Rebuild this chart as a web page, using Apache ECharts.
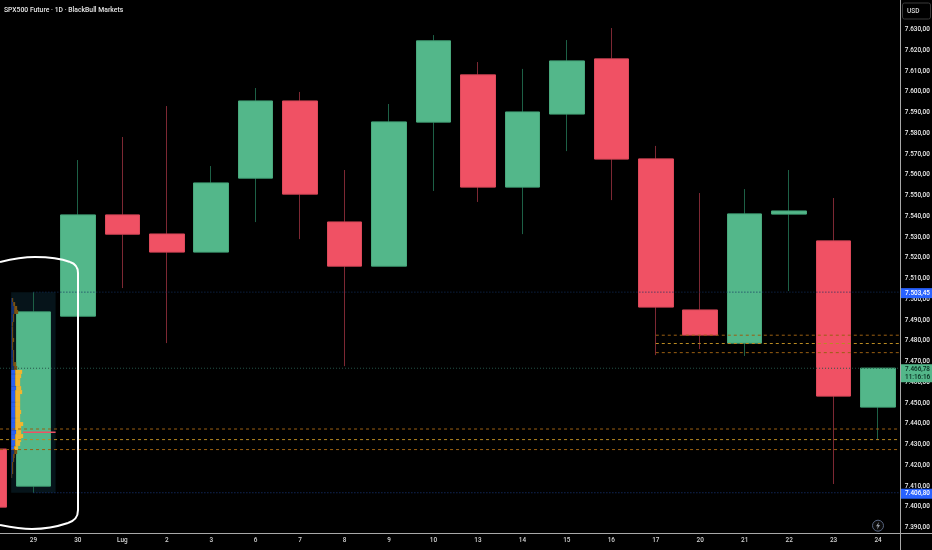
<!DOCTYPE html>
<html><head><meta charset="utf-8">
<style>html,body{margin:0;padding:0;background:#000}#c{width:932px;height:550px}</style>
<script src="https://cdn.jsdelivr.net/npm/echarts@6/dist/echarts.min.js"></script>
</head><body><div id="c"></div>
<script>
const categories=['26','29','30','Lug','2','3','6','7','8','9','10','13','14','15','16','17','20','21','22','23','24'];
const opens =[7427.8,7410,7491.9,7540.6,7531.4,7522.8,7558.4,7595.5,7537.2,7516,7585.4,7608.1,7554.1,7589.3,7615.8,7567.6,7494.8,7478.9,7541.1,7528.1,7448.1];
const closes=[7399.9,7493.9,7540.6,7531.4,7522.8,7556,7595.5,7550.7,7516,7585.4,7624.5,7554.1,7590.2,7614.8,7567.6,7496.3,7482.8,7541.1,7542.5,7453.4,7466.78];
const lows  =[7395,7406.8,7491.9,7505.4,7478.9,7522.8,7537.2,7529,7467.8,7516,7552.2,7546.9,7531.4,7571.4,7547.8,7473.1,7476,7472.7,7504,7411,7432.7];
const highs =[7432,7503.45,7567.1,7578.2,7593.1,7564.2,7601.8,7599.9,7562.3,7594.1,7627.3,7614.3,7611,7624.9,7630.7,7573.9,7551.2,7553.1,7562.3,7548.8,7466.78];
const yTicks=[7390,7400,7410,7420,7430,7440,7450,7460,7470,7480,7490,7500,7510,7520,7530,7540,7550,7560,7570,7580,7590,7600,7610,7620,7630];
const profilePrices=[7499.6,7497.7,7495.8,7493.9,7491.9,7490,7488.1,7486.1,7484.2,7482.3,7480.4,7478.4,7476.5,7474.6,7472.7,7470.7,7468.8,7466.9,7465,7463,7461.1,7459.2,7457.2,7455.3,7453.4,7451.5,7449.5,7447.6,7445.7,7443.8,7441.8,7439.9,7438,7436,7434.1,7432.2,7430.3,7428.3,7426.4,7424.5,7422.6,7420.6,7418.7,7416.8,7414.9];
const profileBuy=[1,2,3,3,2,2,1,1,1,1,1,1,1,2,2,2,2,3,4,4,4,4,5,4,4,4,4,4,4,4,4,4,4,5,4,4,4,3,3,2,2,1,1,1,0.5];
const profileSell=[1,2,3,4,1,1,1,1,1,1,2,1,1,1,1,1,3,3,7,6,5,5,5,7,5,5,5,5,6,5,5,8,6,5,8,6,5,4,3,1.5,1,1,1,1,0.5];
const sessionHigh=7503.45, sessionLow=7406.8, lastPrice=7466.78, pocPrice=7436;
const vaHigh=7465, vaLow=7427;
const levelsA=[7437.5,7432.4,7427.6];
const levelsB=[7482.7,7478.7,7474.3];

const fmt=v=>{const s=v.toFixed(2).split('.');return s[0].slice(0,1)+'.'+s[0].slice(1)+','+s[1];};
const FONT='Roboto, "Liberation Sans", sans-serif';
const GREEN='#53b78a',RED='#f05164';

function level(price,from,to,color,type,width){
  return {type:'line',xAxisIndex:1,yAxisIndex:0,z:6,silent:true,symbol:'none',animation:false,
    data:[[from,price],[to,price]],
    lineStyle:{color:color,width:width||1,type:type}};
}
const chart=echarts.init(document.getElementById('c'),null,{renderer:'canvas'});
const series=[
 {type:'custom',xAxisIndex:1,yAxisIndex:0,z:1,silent:true,animation:false,
  data:[[sessionHigh,sessionLow]],encode:{y:[0,1]},
  renderItem(p,api){
    const a=api.coord([0.5,api.value(0)]),b=api.coord([1.5,api.value(1)]);
    return {type:'rect',shape:{x:a[0],y:a[1],width:b[0]-a[0],height:b[1]-a[1]},style:{fill:'#06141a'}};
  }},
 {type:'candlestick',xAxisIndex:0,yAxisIndex:0,z:2,barWidth:35,silent:true,animation:false,
  data:categories.map((c,i)=>[opens[i],closes[i],lows[i],highs[i]]),
  itemStyle:{color:GREEN,color0:RED,borderColor:'#1d6046',borderColor0:'#7d2833',borderWidth:1}},
 {type:'candlestick',xAxisIndex:0,yAxisIndex:0,z:3,barWidth:35,silent:true,animation:false,
  data:categories.map((c,i)=>[opens[i],closes[i],Math.min(opens[i],closes[i]),Math.max(opens[i],closes[i])]),
  itemStyle:{color:GREEN,color0:RED,borderColor:'#49a87c',borderColor0:'#dd4a5b',borderWidth:1}},
 {type:'custom',xAxisIndex:1,yAxisIndex:0,z:4,silent:true,animation:false,
  data:profilePrices.map((p,i)=>[p,profileBuy[i],profileSell[i]]),encode:{y:0},
  renderItem(p,api){
    const price=api.value(0),buy=api.value(1),sell=api.value(2);
    const c=api.coord([0.5,price]),h=api.size([0,1.93])[1];
    const bright=price<=vaHigh&&price>=vaLow;
    return {type:'group',children:[
      {type:'rect',shape:{x:c[0],y:c[1]-h/2,width:buy,height:h},style:{fill:bright?'#2b62f0':'#12306e'}},
      {type:'rect',shape:{x:c[0]+buy,y:c[1]-h/2,width:sell,height:h},style:{fill:bright?'#f3b52e':'#7c5212'}}
    ]};
  }},
 level(sessionHigh,1,20.5,'#13305f',[1,2]),
 level(sessionLow,1,20.5,'#1a3a80',[1,2]),
 level(lastPrice,0.25,20.5,'#24544a',[1,2]),
 level(levelsA[0],0.25,20.5,'#9a5f12',[3,3]),
 level(levelsA[1],0.25,20.5,'#b98a22',[3,3]),
 level(levelsA[2],0.25,20.5,'#9a5f12',[3,3]),
 level(levelsB[0],15,20.5,'#9a5f12',[3,3]),
 level(levelsB[1],15,20.5,'#b98a22',[3,3]),
 level(levelsB[2],15,20.5,'#9a5f12',[3,3]),
 level(pocPrice,0.77,1.5,RED,'solid',1.5)
];
chart.setOption({
 animation:false,backgroundColor:'#000',
 grid:{left:-33.3,top:0,width:933.6,bottom:17,containLabel:false,outerBoundsMode:'none'},
 xAxis:[
  {type:'category',data:categories,position:'bottom',
   axisLine:{show:true,lineStyle:{color:'#a8a8a8',width:1}},axisTick:{show:false},splitLine:{show:false},
   axisLabel:{interval:0,color:'#d4d4d4',fontSize:6.4,fontWeight:500,fontFamily:FONT,margin:4}},
  {type:'value',min:-0.5,max:20.5,show:false,splitLine:{show:false}}
 ],
 yAxis:[{type:'value',position:'right',min:7387.4,max:7644.2,scale:true,
   axisLine:{show:true,onZero:false,lineStyle:{color:'#a8a8a8',width:1}},axisTick:{show:false},splitLine:{show:false},
   axisLabel:{color:'#ececec',fontSize:6.4,fontWeight:500,fontFamily:FONT,margin:4.5,showMinLabel:true,showMaxLabel:true,
     customValues:yTicks,formatter:fmt}}],
 series:series
});
const py=v=>chart.convertToPixel({yAxisIndex:0},v);
const badge=(x,y,w,h,fill)=>({type:'rect',z:20,shape:{x,y,width:w,height:h},style:{fill}});
const txt=(t,x,y,fill,size,align)=>({type:'text',z:21,style:{text:t,x,y,fill,fontSize:size,fontWeight:500,fontFamily:FONT,textAlign:align||'left',textVerticalAlign:'middle'}});
const curve=(x1,y1,cpx1,cpy1,cpx2,cpy2,x2,y2)=>({type:'bezierCurve',z:18,silent:true,shape:{x1,y1,cpx1,cpy1,cpx2,cpy2,x2,y2},style:{fill:null,stroke:'#ffffff',lineWidth:2}});
const yH=py(sessionHigh),yL=py(sessionLow),yC=py(lastPrice);
chart.setOption({graphic:[
 {type:'line',z:15,shape:{x1:900.5,y1:0,x2:900.5,y2:550},style:{stroke:'#a8a8a8',lineWidth:1}},
 {type:'line',z:15,shape:{x1:0,y1:533.5,x2:932,y2:533.5},style:{stroke:'#a8a8a8',lineWidth:1}},
 txt('SPX500 Future · 1D · BlackBull Markets',4,10,'#e6e6e6',6.8),
 {type:'rect',z:20,shape:{x:902.5,y:3,width:28,height:16,r:2},style:{fill:'#000',stroke:'#3a3a3a',lineWidth:1}},
 txt('USD',907,11,'#d8d8d8',6.5),
 badge(901,yH-4,31,10,'#2962ff'),txt(fmt(sessionHigh),905,yH+1,'#fff',6.4),
 badge(901,yL-4,31,10,'#2962ff'),txt(fmt(sessionLow),905,yL+1,'#fff',6.4),
 badge(901,yC-4,31,18,GREEN),txt(fmt(lastPrice),905,yC+1,'#06281c',6.4),txt('11:16:16',905,yC+9,'#06281c',6.4),
 curve(0,262,12,259,24,257,35,257),
 curve(35,257,50,257,62,259,70,262),
 curve(70,262,76,264,78,268,78,273),
 {type:'line',z:18,silent:true,shape:{x1:78,y1:273,x2:78,y2:510},style:{stroke:'#ffffff',lineWidth:2}},
 curve(78,510,78,518,74,521,68,523),
 curve(68,523,56,527,44,529,32,529),
 curve(32,529,20,529,10,527,0,525),
 {type:'circle',z:20,shape:{cx:878,cy:525.7,r:5.5},style:{fill:'#0a0a0a',stroke:'#56647f',lineWidth:1}},
 {type:'polygon',z:21,shape:{points:[[879,522],[876,526.3],[877.8,526.3],[877,529.5],[880,525],[878.2,525]]},style:{fill:'#9aa0aa'}}
]});
</script></body></html>
